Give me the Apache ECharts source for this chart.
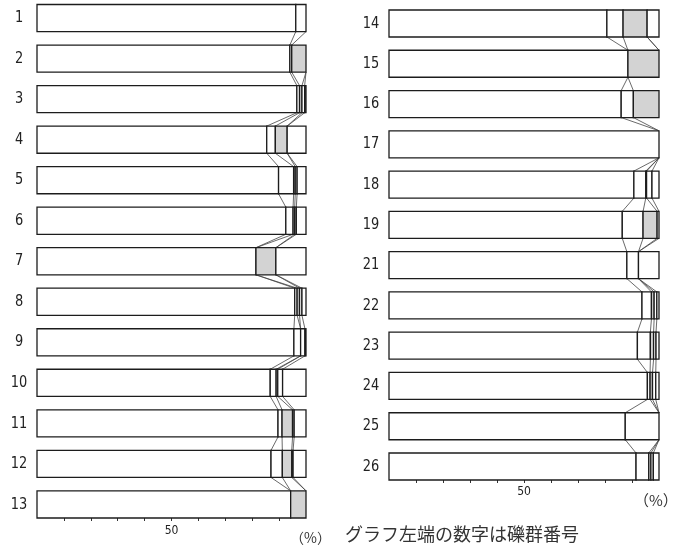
<!DOCTYPE html>
<html>
<head>
<meta charset="utf-8">
<style>
  html, body { margin: 0; padding: 0; background: #fff; }
  #chart { width: 690px; height: 548px; }
</style>
<script src="https://cdn.jsdelivr.net/npm/echarts@6/dist/echarts.min.js"></script>
</head>
<body>
<div id="chart"></div>
<script>
// 礫群番号 (row labels), left panel = first 13, right panel = rest
const groupNames = ["1", "2", "3", "4", "5", "6", "7", "8", "9", "10", "11", "12", "13",
  "14", "15", "16", "17", "18", "19", "21", "22", "23", "24", "25", "26"];
const leftCount = 13;

// composition (%) of each group, five classes stacked left to right
const segA = [96.2, 94.0, 96.6, 85.4, 89.8, 92.5, 81.4, 95.8, 95.5, 86.7, 89.6, 87.0, 94.3,
  80.7, 88.5, 86.0, 100, 90.7, 86.4, 88.1, 93.7, 92.0, 95.7, 87.5, 91.5];
const segB = [3.8, 0.7, 1.0, 3.2, 5.6, 2.7, 0, 0.9, 2.5, 2.2, 1.5, 4.2, 0,
  6.0, 0, 4.5, 0, 4.4, 7.7, 4.3, 3.5, 4.8, 1.0, 12.5, 4.7];
const segC = [0, 5.3, 0.9, 4.4, 0.6, 0.6, 7.4, 0.9, 0, 0.6, 3.9, 3.5, 5.7,
  8.9, 11.5, 9.5, 0, 0.3, 5.2, 0, 1.0, 1.2, 0.9, 0, 0.8];
const segD = [0, 0, 1.0, 0, 0.7, 0.6, 0, 0.9, 1.6, 1.8, 0.6, 0.5, 0,
  0, 0, 0, 0, 2.0, 0.7, 0, 1.0, 0.9, 1.2, 0, 0.9];
const segE = [0, 0, 0.5, 7.0, 3.3, 3.6, 11.2, 1.5, 0.4, 8.7, 4.4, 4.8, 0,
  4.4, 0, 0, 0, 2.6, 0, 7.6, 0.8, 1.1, 1.2, 0, 2.1];
const segColors = ["#ffffff", "#ffffff", "#d3d3d3", "#ffffff", "#ffffff"];

const tickValues = [10, 20, 30, 40, 50, 60, 70, 80, 90];
const labelValues = [50];

const halfH = 0.335; // half bar height in row units
const segs = [segA, segB, segC, segD, segE];
const numFont = '"DejaVu Sans Condensed", "DejaVu Sans", sans-serif';

function rowData(from, to) {
  const out = [];
  for (let r = from; r < to; r++) {
    out.push([r - from].concat(segs.map(s => s[r])));
  }
  return out;
}
function cumBounds(r) {
  const tot = segs.reduce((a, s) => a + s[r], 0);
  const b = [];
  let c = 0;
  for (let k = 0; k < 4; k++) { c += segs[k][r] * 100 / tot; b.push(c); }
  return b;
}
function linkData(from, to) {
  const out = [];
  for (let r = from; r < to - 1; r++) {
    out.push([r - from].concat(cumBounds(r), cumBounds(r + 1)));
  }
  return out;
}

function makeBarRender(offset) {
  return function (params, api) {
    const i = api.value(0);
    const vals = [1, 2, 3, 4, 5].map(k => api.value(k));
    const tot = vals.reduce((a, v) => a + v, 0);
    const hpx = api.size([0, halfH])[1];
    const children = [];
    let cum = 0;
    vals.forEach((v, k) => {
      if (v <= 0) return;
      const w = v * 100 / tot;
      const p0 = api.coord([cum, i]);
      const p1 = api.coord([cum + w, i]);
      children.push({
        type: "rect",
        shape: { x: p0[0], y: p0[1] - hpx, width: p1[0] - p0[0], height: hpx * 2 },
        style: { fill: segColors[k], stroke: "#1c1c1c", lineWidth: 1.3 }
      });
      cum += w;
    });
    const pl = api.coord([0, i]);
    children.push({
      type: "text",
      x: pl[0] - 18, y: pl[1],
      scaleX: 0.9,
      style: {
        text: groupNames[offset + params.dataIndex],
        x: 0, y: 0,
        align: "center", verticalAlign: "middle",
        font: "16px " + numFont, fill: "#222"
      }
    });
    return { type: "group", children: children };
  };
}

function linkRender(params, api) {
  const i = api.value(0);
  const hpx = api.size([0, halfH])[1];
  const children = [];
  for (let k = 0; k < 4; k++) {
    const a = api.value(1 + k), b = api.value(5 + k);
    if (a > 99.9 && b > 99.9) continue;
    const p0 = api.coord([a, i]);
    const p1 = api.coord([b, i + 1]);
    children.push({
      type: "line",
      shape: { x1: p0[0], y1: p0[1] + hpx, x2: p1[0], y2: p1[1] - hpx },
      style: { stroke: "#444", lineWidth: 0.8 }
    });
  }
  return { type: "group", children: children };
}

function xAxisDef(grid, pos, showLabel, margin) {
  return {
    type: "value", gridIndex: grid, position: pos, min: 0, max: 100, interval: 10,
    axisLine: { show: false },
    splitLine: { show: false },
    axisTick: { show: true, length: 3, customValues: tickValues, lineStyle: { color: "#333", width: 1 } },
    axisLabel: {
      show: showLabel, customValues: labelValues, margin: margin,
      fontFamily: "DejaVu Sans Condensed", fontSize: 12, color: "#222"
    }
  };
}

const nLeft = leftCount, nRight = groupNames.length - leftCount;

const chart = echarts.init(document.getElementById("chart"));
chart.setOption({
  animation: false,
  backgroundColor: "#fff",
  grid: [
    { left: 37, top: 4.5, width: 269, height: 513.5 },
    { left: 389, top: 10, width: 270, height: 470 }
  ],
  xAxis: [
    xAxisDef(0, "top", false, 4),
    xAxisDef(0, "bottom", true, 7),
    xAxisDef(1, "top", false, 4),
    xAxisDef(1, "bottom", true, 6)
  ],
  yAxis: [
    { type: "value", gridIndex: 0, inverse: true, min: -halfH, max: nLeft - 1 + halfH, show: false },
    { type: "value", gridIndex: 1, inverse: true, min: -halfH, max: nRight - 1 + halfH, show: false }
  ],
  series: [
    { type: "custom", xAxisIndex: 1, yAxisIndex: 0, clip: false, renderItem: linkRender,
      data: linkData(0, leftCount) },
    { type: "custom", xAxisIndex: 1, yAxisIndex: 0, clip: false, renderItem: makeBarRender(0),
      data: rowData(0, leftCount) },
    { type: "custom", xAxisIndex: 3, yAxisIndex: 1, clip: false, renderItem: linkRender,
      data: linkData(leftCount, groupNames.length) },
    { type: "custom", xAxisIndex: 3, yAxisIndex: 1, clip: false, renderItem: makeBarRender(leftCount),
      data: rowData(leftCount, groupNames.length) }
  ],
  graphic: [
    { type: "text", left: 290, top: 531,
      style: { text: "（%）", font: '14px "Noto Sans CJK JP"', fill: "#333" } },
    { type: "text", left: 634, top: 493,
      style: { text: "（%）", font: '15px "Noto Sans CJK JP"', fill: "#333" } },
    { type: "text", left: 345, top: 525,
      style: { text: "グラフ左端の数字は礫群番号", font: '18px "Noto Sans CJK JP"', fill: "#333" } }
  ]
});
</script>
</body>
</html>
